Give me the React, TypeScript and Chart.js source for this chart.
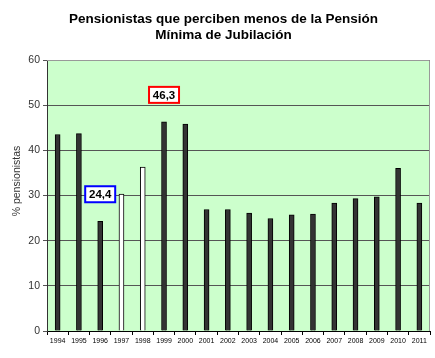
import React, { useEffect, useRef } from "react";
import { Chart, registerables } from "chart.js";

Chart.register(...registerables);

const years = ["1994", "1995", "1996", "1997", "1998", "1999", "2000", "2001", "2002", "2003", "2004", "2005", "2006", "2007", "2008", "2009", "2010", "2011"];
const pct = [43.5, 43.7, 24.3, 30.3, 36.3, 46.3, 45.8, 26.9, 26.9, 26.1, 24.9, 25.7, 25.9, 28.3, 29.3, 29.7, 36.0, 28.3];
const whiteYears = ["1997", "1998"];
const callouts = [
  { year: "1999", text: "46,3", color: "#FF0000" },
  { year: "1996", text: "24,4", color: "#0000FF" },
];
const titleLines = ["Pensionistas que perciben menos de la Pensión", "Mínima de Jubilación"];
const yTitle = "% pensionistas";

const FONT = "'Liberation Sans', Arial, sans-serif";

export default function App() {
  const ref = useRef<HTMLCanvasElement | null>(null);
  useEffect(() => {
    document.body.style.margin = "0";
    const canvas = ref.current!;
    const bgPlugin = {
      id: "bg",
      beforeDraw(chart: any) {
        const { ctx, chartArea: a } = chart;
        ctx.save();
        ctx.fillStyle = "#FFFFFF";
        ctx.fillRect(0, 0, chart.width, chart.height);
        ctx.fillStyle = "#CCFFCC";
        ctx.fillRect(a.left, a.top, a.right - a.left, a.bottom - a.top);
        ctx.restore();
      },
      afterDraw(chart: any) {
        const { ctx, chartArea: a } = chart;
        ctx.save();
        ctx.strokeStyle = "#999999";
        ctx.lineWidth = 1;
        ctx.beginPath();
        ctx.moveTo(a.left, a.top + 0.5);
        ctx.lineTo(a.right - 0.5, a.top + 0.5);
        ctx.lineTo(a.right - 0.5, a.bottom);
        ctx.stroke();
        // title
        ctx.fillStyle = "#000";
        ctx.font = `bold 13.5px ${FONT}`;
        ctx.textAlign = "center";
        ctx.textBaseline = "middle";
        const cx = chart.width / 2 + 6;
        titleLines.forEach((t, i) => ctx.fillText(t, cx, 19 + i * 16));
        // y axis title
        ctx.font = `10.5px ${FONT}`;
        ctx.fillStyle = "#333";
        ctx.translate(17, 181);
        ctx.rotate(-Math.PI / 2);
        ctx.fillText(yTitle, 0, 0);
        ctx.restore();
      },
      afterDatasetsDraw(chart: any) {
        const { ctx } = chart;
        const meta = chart.getDatasetMeta(0);
        ctx.save();
        ctx.font = `bold 11.5px ${FONT}`;
        ctx.textAlign = "center";
        ctx.textBaseline = "middle";
        callouts.forEach((c) => {
          const i = years.indexOf(c.year);
          const el = meta.data[i];
          const cx = el.x;
          const cy = el.y - 27;
          const w = 30, h = 16;
          ctx.fillStyle = "#FFFFFF";
          ctx.fillRect(cx - w / 2, cy - h / 2, w, h);
          ctx.strokeStyle = c.color;
          ctx.lineWidth = 2;
          ctx.strokeRect(cx - w / 2, cy - h / 2, w, h);
          ctx.fillStyle = "#000";
          ctx.fillText(c.text, cx, cy + 1);
        });
        ctx.restore();
      },
    };
    const chart = new Chart(canvas, {
      type: "bar",
      data: {
        labels: years,
        datasets: [
          {
            data: pct,
            backgroundColor: years.map((y) => (whiteYears.includes(y) ? "#FFFFFF" : "#333333")),
            borderColor: "#000000",
            borderWidth: 1,
            barThickness: 5,
          },
        ],
      },
      options: {
        responsive: false,
        animation: false,
        maintainAspectRatio: false,
        layout: { padding: { top: 60, right: 5, left: 0, bottom: 0 } },
        plugins: { legend: { display: false }, tooltip: { enabled: false }, title: { display: false } },
        scales: {
          x: {
            grid: { display: true, drawOnChartArea: false, offset: true, tickLength: 4, color: "#000" },
            border: { color: "#000" },
            ticks: { font: { size: 7, family: FONT }, color: "#000", maxRotation: 0, autoSkip: false, padding: 2 },
            afterFit(s: any) { s.height = 27; },
          },
          y: {
            min: 0,
            max: 60,
            ticks: { stepSize: 10, font: { size: 10.5, family: FONT }, color: "#333", padding: 3 },
            grid: { color: "#555", tickLength: 4 },
            border: { color: "#333" },
            title: { display: false },
            afterFit(s: any) { s.width = 47; },
          },
        },
      },
      plugins: [bgPlugin],
    });
    return () => chart.destroy();
  }, []);
  return <canvas ref={ref} width={435} height={358} style={{ display: "block" }} />;
}
